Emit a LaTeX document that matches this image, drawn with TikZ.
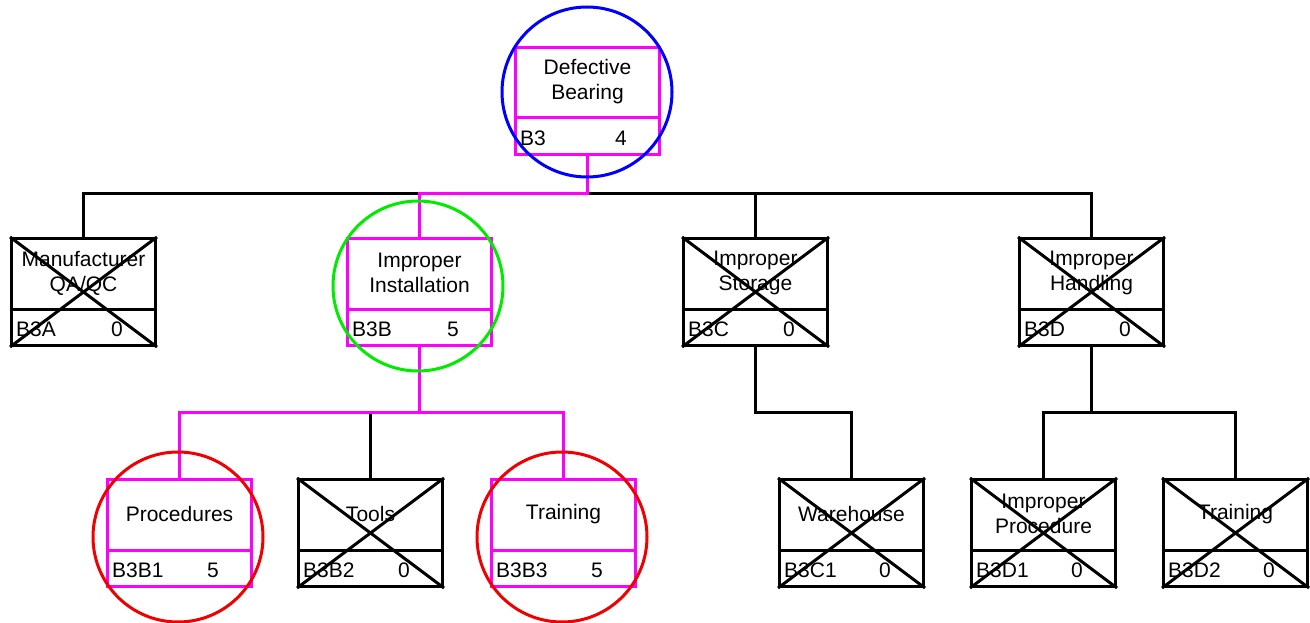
\documentclass[tikz,border=0pt]{standalone}
\usepackage{fontspec}
\setmainfont{Liberation Sans}
\definecolor{hot}{RGB}{255,0,255}
\definecolor{ringblue}{RGB}{0,0,255}
\definecolor{ringgreen}{RGB}{0,235,0}
\definecolor{ringred}{RGB}{240,0,0}
\tikzset{
  frame/.style={draw, line width=3pt, rectangle, inner sep=0pt,
    minimum width=144pt, minimum height=107pt, anchor=north west},
  title/.style={align=center, font=\fontsize{21}{25}\selectfont, inner sep=0pt},
  idtext/.style={font=\fontsize{21}{25}\selectfont, inner sep=0pt},
  link/.style={line width=3pt},
  ring/.style={line width=3pt},
}
% #1 style, #2 name, #3 left, #4 top, #5 title, #6 id, #7 score
\newcommand\eventbox[7]{%
  \node[frame, #1] (#2) at (#3,#4) {};
  \draw[line width=3pt, #1] ([yshift=-72pt]#2.north west) -- ([yshift=-72pt]#2.north east);
  \node[title] (#2-t) at ([yshift=-36pt]#2.north) {#5};
  \node[idtext, anchor=west] (#2-id) at ([xshift=6pt,yshift=17.5pt]#2.south west) {#6};
  \node[idtext] (#2-n) at ([xshift=107pt,yshift=17.5pt]#2.south west) {#7};
}
% ruled-out event: crossed corner to corner
\newcommand\crossout[1]{%
  \draw[line width=3pt] (#1.north west) -- (#1.south east);
  \draw[line width=3pt] (#1.north east) -- (#1.south west);
}
\begin{document}
\begin{tikzpicture}[x=1pt, y=-1pt]
\useasboundingbox (0,0) rectangle (1310,623);

% events
\eventbox{draw=hot}{B3}{514}{46}{Defective\\Bearing}{B3}{4}
\eventbox{draw=black}{B3A}{10}{237}{Manufacturer\\QA/QC}{B3A}{0}
\eventbox{draw=hot}{B3B}{346}{237}{Improper\\Installation}{B3B}{5}
\eventbox{draw=black}{B3C}{682}{237}{Improper\\Storage}{B3C}{0}
\eventbox{draw=black}{B3D}{1018}{237}{Improper\\Handling}{B3D}{0}
\eventbox{draw=hot}{B3B1}{106}{478}{Procedures}{B3B1}{5}
\eventbox{draw=black}{B3B2}{297}{478}{Tools}{B3B2}{0}
\eventbox{draw=hot}{B3B3}{490}{478}{Training}{B3B3}{5}
\eventbox{draw=black}{B3C1}{778}{478}{Warehouse}{B3C1}{0}
\eventbox{draw=black}{B3D1}{970}{478}{Improper\\Procedure}{B3D1}{0}
\eventbox{draw=black}{B3D2}{1162}{478}{Training}{B3D2}{0}

\crossout{B3A}
\crossout{B3C}
\crossout{B3D}
\crossout{B3B2}
\crossout{B3C1}
\crossout{B3D1}
\crossout{B3D2}

% branch levels
\coordinate (lvl1) at (0,194);
\coordinate (lvl2) at (0,412);

% black branches
\draw[link] (B3B.north |- lvl1) -| (B3A.north);
\draw[link] (B3.south |- lvl1) -| (B3C.north);
\draw[link] (B3.south |- lvl1) -| (B3D.north);
\draw[link] (B3B.south |- lvl2) -| (B3B2.north);
\draw[link] (B3C.south) -- (B3C.south |- lvl2) -| (B3C1.north);
\draw[link] (B3D.south) -- (B3D.south |- lvl2) -| (B3D1.north);
\draw[link] (B3D.south |- lvl2) -| (B3D2.north);

% highlighted path
\draw[link, hot] (B3.south) -- (B3.south |- lvl1) -| (B3B.north);
\draw[link, hot] (B3B.south) -- (B3B.south |- lvl2) -| (B3B1.north);
\draw[link, hot] (B3B.south |- lvl2) -| (B3B3.north);

% rings
\draw[ring, ringblue] (587,92) circle[radius=85];
\draw[ring, ringgreen] (418,286) circle[radius=85];
\draw[ring, ringred] (178,537) circle[radius=85];
\draw[ring, ringred] (562,537) circle[radius=85];
\end{tikzpicture}
\end{document}
